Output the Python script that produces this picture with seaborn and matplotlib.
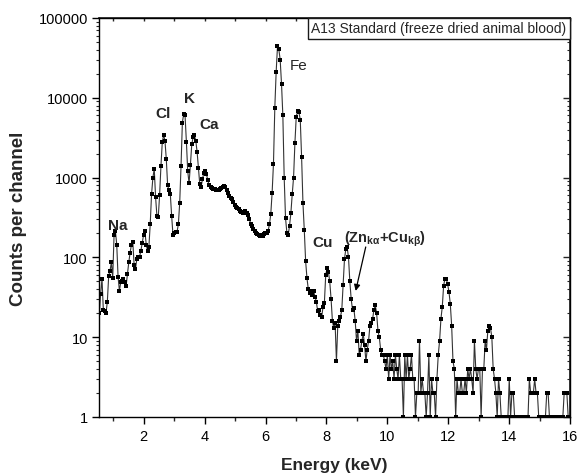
import numpy as np
import matplotlib
matplotlib.use("Agg")
import matplotlib.pyplot as plt
from matplotlib.ticker import FixedLocator, FuncFormatter, NullFormatter
from matplotlib.offsetbox import AnchoredText
import seaborn as sns

# detector calibration: energy of channel 0 and channel width (keV)
first_channel_kev = 0.54
channel_width_kev = 0.044

# counts per channel, channel by channel
counts = [
    20, 35, 54, 22, 21, 20, 28, 59, 68, 87,
    55, 190, 215, 145, 57, 38, 49, 51, 54, 49,
    44, 62, 87, 115, 145, 155, 80, 72, 95, 101,
    101, 121, 150, 190, 215, 145, 121, 135, 262, 620,
    1000, 1290, 570, 330, 320, 600, 1400, 2770, 3430, 2900,
    1700, 800, 690, 620, 330, 190, 200, 208, 208, 260,
    480, 1400, 4900, 6300, 6000, 2800, 1200, 850, 1450, 2600,
    3200, 3380, 2900, 2100, 1300, 820, 770, 950, 1150, 1220,
    1100, 920, 800, 760, 740, 720, 710, 700, 700, 705,
    715, 730, 760, 790, 760, 700, 640, 580, 550, 540,
    490, 450, 425, 410, 400, 385, 370, 355, 365, 380,
    360, 340, 300, 265, 245, 225, 215, 205, 195, 190,
    188, 190, 188, 195, 203, 203, 215, 260, 350, 650,
    1500, 7500, 21000, 44000, 40500, 30000, 15000, 6000, 1000, 310,
    205, 190, 250, 360, 620, 1000, 2700, 5800, 6800, 6600,
    5300, 1800, 480, 220, 90, 55, 40, 36, 38, 34,
    38, 32, 28, 21, 22, 19, 18, 24, 27, 60,
    73, 66, 50, 30, 16, 13, 15, 5, 14, 16,
    18, 22, 45, 95, 127, 134, 100, 50, 30, 22,
    23, 16, 9, 12, 6, 7, 9, 11, 8, 5,
    7, 9, 14, 15, 17, 22, 25, 20, 12, 10,
    7, 6, 6, 5, 4, 6, 3, 6, 4, 5,
    3, 6, 4, 3, 6, 3, 3, 1, 6, 3,
    6, 3, 4, 6, 3, 3, 1, 2, 2, 9,
    2, 3, 2, 2, 1, 2, 6, 1, 3, 2,
    2, 1, 3, 6, 9, 17, 24, 44, 54, 54,
    46, 37, 26, 14, 5, 4, 1, 3, 2, 2,
    3, 2, 2, 3, 2, 4, 3, 4, 3, 2,
    9, 4, 3, 4, 4, 1, 4, 4, 9, 7,
    12, 14, 13, 10, 4, 3, 2, 1, 3, 2,
    1, 1, 1, 1, 1, 1, 3, 1, 2, 2,
    1, 1, 1, 1, 1, 1, 1, 1, 1, 1,
    1, 3, 2, 2, 2, 3, 2, 2, 1, 1,
    1, 1, 1, 1, 2, 2, 1, 1, 1, 1,
    1, 1, 1, 1, 1, 1, 1, 2, 2, 2,
    1, 1,
]

x_major = [2, 4, 6, 8, 10, 12, 14, 16]
x_minor = [1, 3, 5, 7, 9, 11, 13, 15]
y_decades = [1, 10, 100, 1000, 10000, 100000]

energy = first_channel_kev + channel_width_kev * np.arange(len(counts))

sns.set_theme(style="ticks")
plt.rcParams["font.family"] = ["Liberation Sans", "DejaVu Sans"]
plt.rcParams["mathtext.fontset"] = "custom"
plt.rcParams["mathtext.rm"] = "Liberation Sans"
plt.rcParams["mathtext.bf"] = "Liberation Sans:bold"

fig = plt.figure(figsize=(5.78, 4.77), dpi=100)
ax = fig.add_axes([0.1713, 0.1237, 0.8149, 0.8365])

sns.lineplot(x=energy, y=counts, ax=ax, estimator=None, sort=False,
             color="#333333", linewidth=0.8, marker="s", markersize=3,
             markerfacecolor="black", markeredgecolor="black", markeredgewidth=0)

ax.set_yscale("log")
ax.set_xlim(0.53, 16)
ax.set_ylim(1, 100000)

ax.xaxis.set_major_locator(FixedLocator(x_major))
ax.xaxis.set_minor_locator(FixedLocator(x_minor))
ax.yaxis.set_major_locator(FixedLocator(y_decades))
minor_y = [m * d for d in y_decades[:-1] for m in range(2, 10)]
ax.yaxis.set_minor_locator(FixedLocator(minor_y))
ax.yaxis.set_major_formatter(FuncFormatter(lambda v, p: f"{int(round(v))}"))
ax.yaxis.set_minor_formatter(NullFormatter())

for side in ["top", "right", "bottom", "left"]:
    ax.spines[side].set_visible(True)
    ax.spines[side].set_linewidth(1.0)
    ax.spines[side].set_color("black")

ax.tick_params(axis="x", which="major", direction="out", length=5, width=1,
               labelsize=10.5, colors="black", pad=4)
ax.tick_params(axis="x", which="minor", direction="out", length=3, width=1)
ax.tick_params(axis="y", which="major", direction="out", length=5, width=1,
               labelsize=10.5, colors="black", pad=3)
ax.tick_params(axis="y", which="minor", direction="out", length=2.5, width=0.8)

# inward ticks on the top and right frame
top = ax.secondary_xaxis("top")
top.xaxis.set_major_locator(FixedLocator(x_major + x_minor))
top.tick_params(direction="in", length=2.5, width=1, labeltop=False)
right = ax.secondary_yaxis("right")
right.yaxis.set_major_locator(FixedLocator(y_decades))
right.yaxis.set_minor_locator(FixedLocator(minor_y))
right.tick_params(which="major", direction="in", length=5, width=1, labelright=False)
right.tick_params(which="minor", direction="in", length=2.5, width=0.8, labelright=False)

ax.set_xlabel("Energy (keV)", fontsize=12.5, fontweight="bold", labelpad=10)
ax.set_ylabel("Counts per channel", fontsize=13.5, fontweight="bold", labelpad=8)

bold_peaks = {"Na": (1.13, 255), "Cl": (2.62, 6450), "K": (3.49, 10000),
              "Ca": (4.15, 4700), "Cu": (7.89, 155)}
for name, (ex, cy) in bold_peaks.items():
    ax.text(ex, cy, name, fontsize=11, fontweight="bold", ha="center", va="center")
ax.text(7.10, 26000, "Fe", fontsize=11, ha="center", va="center")

ax.text(8.58, 175, r"(Zn$_{\mathbf{k\alpha}}$+Cu$_{\mathbf{k\beta}}$)", fontsize=10.5,
        fontweight="bold", ha="left", va="center")
ax.annotate("", xy=(8.96, 38), xytext=(9.29, 135),
            arrowprops=dict(arrowstyle="-|>", color="black", lw=0.9,
                            mutation_scale=9, shrinkA=0, shrinkB=0))

box = AnchoredText("A13 Standard (freeze dried animal blood)", loc="upper right",
                   prop=dict(size=10), frameon=True, pad=0.25, borderpad=0)
box.patch.set_boxstyle("square,pad=0")
box.patch.set_linewidth(1.0)
ax.add_artist(box)

fig.savefig("out.png", dpi=100)
